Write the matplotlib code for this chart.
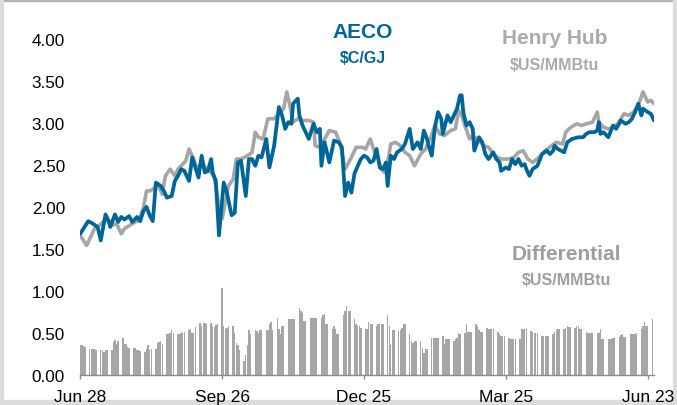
import matplotlib
matplotlib.use('Agg')
import matplotlib.pyplot as plt
from matplotlib.patches import Rectangle

plt.rcParams['font.family'] = ['Liberation Sans', 'DejaVu Sans']

# ---- data ----
tick_days = [0, 90, 180, 270, 360]
tick_labels = ['Jun 28', 'Sep 26', 'Dec 25', 'Mar 25', 'Jun 23']
y_ticks = [0.0, 0.5, 1.0, 1.5, 2.0, 2.5, 3.0, 3.5, 4.0]

aeco_days = [0, 5, 8, 11, 13, 16, 18, 19, 22, 24, 26, 28, 31, 33, 36, 38, 40, 42, 44, 46,
             48, 51, 53, 55, 58, 60, 62, 64, 66, 69, 71, 73, 75, 77, 79, 81, 83, 84, 86, 88,
             91, 93, 96, 98, 100, 102, 105, 107, 109, 111, 113, 115, 118, 120, 123, 126, 128,
             130, 132, 134, 135, 138, 139, 141, 143, 145, 148, 150, 152, 153, 155, 158, 161,
             164, 166, 168, 170, 172, 174, 178, 180, 182, 184, 186, 188, 190, 192, 194, 195,
             197, 199, 201, 204, 206, 209, 211, 214, 216, 218, 220, 221, 223, 225, 227, 229,
             230, 233, 235, 237, 239, 241, 242, 243, 245, 247, 249, 250, 253, 255, 257, 259,
             262, 264, 266, 267, 270, 272, 274, 276, 278, 280, 282, 283, 285, 287, 290, 293,
             296, 298, 300, 301, 303, 307, 309, 312, 316, 319, 321, 323, 326, 328, 329, 330,
             332, 335, 338, 340, 343, 346, 348, 350, 352, 354, 356, 357, 360, 362, 364]
aeco_vals = [1.68, 1.83, 1.80, 1.76, 1.60, 1.91, 1.83, 1.76, 1.91, 1.82, 1.88, 1.85, 1.89, 1.82,
             1.88, 1.83, 1.95, 2.00, 1.90, 1.83, 2.29, 2.25, 2.19, 2.11, 2.13, 2.31, 2.37, 2.45,
             2.43, 2.31, 2.59, 2.47, 2.35, 2.61, 2.41, 2.43, 2.57, 2.41, 2.31, 1.66, 2.29, 2.17,
             1.90, 1.93, 2.53, 2.55, 2.13, 2.57, 2.57, 2.49, 2.61, 2.59, 2.81, 2.47, 2.73, 3.19,
             3.09, 2.93, 3.01, 2.99, 3.23, 3.29, 3.09, 2.97, 2.89, 2.81, 2.99, 2.89, 2.93, 2.49,
             2.77, 2.53, 2.79, 2.77, 2.71, 2.13, 2.29, 2.17, 2.40, 2.57, 2.61, 2.59, 2.53, 2.55,
             2.69, 2.47, 2.45, 2.53, 2.25, 2.61, 2.57, 2.65, 2.69, 2.75, 2.93, 2.69, 2.77, 2.69,
             2.91, 2.81, 2.73, 2.61, 2.95, 3.13, 3.05, 2.87, 3.09, 3.01, 3.09, 3.17, 3.33, 3.33,
             3.13, 2.97, 3.01, 2.93, 2.67, 2.83, 2.77, 2.63, 2.57, 2.65, 2.57, 2.53, 2.43, 2.47,
             2.45, 2.57, 2.51, 2.57, 2.49, 2.51, 2.45, 2.37, 2.45, 2.49, 2.63, 2.67, 2.63, 2.67,
             2.73, 2.69, 2.65, 2.77, 2.81, 2.83, 2.83, 2.87, 2.89, 2.89, 2.91, 3.01, 2.87, 2.89,
             2.83, 2.97, 2.93, 3.03, 2.99, 3.01, 3.05, 3.13, 3.23, 3.09, 3.17, 3.13, 3.11, 3.03]

hh_days = [0, 2, 4, 6, 9, 12, 17, 20, 23, 26, 28, 33, 37, 40, 42, 44, 46, 49, 52, 54, 57, 60,
           62, 64, 67, 69, 72, 74, 77, 80, 83, 85, 88, 90, 92, 94, 97, 99, 102, 106, 109, 111,
           113, 116, 119, 123, 127, 129, 131, 133, 135, 138, 141, 145, 148, 149, 152, 155, 158,
           162, 165, 168, 172, 175, 179, 181, 184, 186, 189, 191, 193, 195, 197, 200, 203, 206,
           209, 212, 216, 219, 222, 225, 228, 231, 235, 238, 240, 242, 244, 247, 249, 253, 256,
           259, 263, 267, 272, 275, 278, 281, 284, 287, 291, 295, 299, 302, 306, 308, 310, 313,
           315, 318, 321, 325, 328, 329, 332, 335, 338, 341, 345, 348, 351, 354, 357, 360, 362, 364]
hh_vals = [1.66, 1.60, 1.54, 1.62, 1.74, 1.78, 1.86, 1.78, 1.80, 1.68, 1.74, 1.80, 1.84, 1.98,
           2.19, 2.19, 2.21, 2.27, 2.15, 2.37, 2.45, 2.37, 2.45, 2.49, 2.55, 2.69, 2.57, 2.45,
           2.53, 2.45, 2.41, 2.35, 2.01, 1.86, 2.05, 2.25, 2.33, 2.57, 2.57, 2.61, 2.65, 2.89,
           2.83, 2.81, 3.05, 3.05, 3.13, 3.17, 3.37, 3.21, 3.01, 3.05, 3.03, 3.03, 3.01, 2.73,
           2.71, 2.81, 2.91, 2.89, 2.75, 2.45, 2.59, 2.71, 2.71, 2.69, 2.81, 2.69, 2.57, 2.45,
           2.41, 2.53, 2.75, 2.77, 2.73, 2.65, 2.61, 2.49, 2.63, 2.69, 2.81, 2.97, 2.87, 2.85,
           2.91, 2.93, 3.15, 3.09, 2.97, 2.81, 2.85, 2.79, 2.73, 2.71, 2.61, 2.57, 2.57, 2.59,
           2.65, 2.67, 2.57, 2.53, 2.59, 2.67, 2.73, 2.77, 2.75, 2.89, 2.93, 2.97, 2.99, 2.97,
           2.99, 3.01, 3.13, 3.01, 2.95, 2.93, 2.95, 2.99, 3.11, 3.09, 3.13, 3.21, 3.37, 3.25,
           3.27, 3.23]

# trading days (weekdays) and the AECO-Henry Hub differential for each
diff_days = [d for d in range(364) if d % 7 in (6, 0, 1, 2, 3)]
diff_vals = [0.35, 0.35, 0.34, 0.33,
             0.31, 0.31, 0.31, 0.31, 0.30, 0.30, 0.30, 0.27, 0.30, 0.30,
             0.30, 0.39, 0.41, 0.36, 0.40, 0.44, 0.36, 0.36, 0.33, 0.32,
             0.32, 0.32, 0.30, 0.30, 0.28, 0.27, 0.31, 0.35, 0.30, 0.31,
             0.31, 0.38, 0.39, 0.40, 0.37, 0.48, 0.49, 0.50, 0.53, 0.50,
             0.48, 0.49, 0.50, 0.51, 0.51, 0.53, 0.54, 0.50, 0.50, 0.57,
             0.62, 0.58, 0.62, 0.62, 0.60, 0.62, 0.58, 0.57, 0.59, 0.60,
             1.03, 0.58, 0.55, 0.56, 0.58, 0.58, 0.50, 0.38, 0.35, 0.30,
             0.16, 0.24, 0.35, 0.53, 0.48, 0.53, 0.52, 0.50, 0.53, 0.53,
             0.53, 0.53, 0.61, 0.63, 0.53, 0.67, 0.55, 0.49, 0.58, 0.58,
             0.66, 0.66, 0.66, 0.66, 0.66, 0.79, 0.76, 0.73, 0.64, 0.64,
             0.68, 0.68, 0.68, 0.68, 0.68, 0.68, 0.71, 0.72, 0.60, 0.60,
             0.54, 0.58, 0.54, 0.49, 0.49, 0.71, 0.76, 0.82, 0.76, 0.76,
             0.66, 0.61, 0.58, 0.58, 0.56, 0.54, 0.55, 0.63, 0.60, 0.60,
             0.58, 0.60, 0.61, 0.61, 0.61, 0.71, 0.58, 0.35, 0.53, 0.53,
             0.52, 0.53, 0.56, 0.61, 0.61, 0.49, 0.40, 0.38, 0.40, 0.40,
             0.40, 0.32, 0.26, 0.31, 0.31, 0.44, 0.44, 0.44, 0.44, 0.44,
             0.46, 0.36, 0.42, 0.42, 0.42, 0.40, 0.42, 0.44, 0.50, 0.48,
             0.50, 0.61, 0.51, 0.51, 0.51, 0.61, 0.58, 0.53, 0.51, 0.51,
             0.56, 0.55, 0.55, 0.54, 0.54, 0.51, 0.48, 0.46, 0.46, 0.46,
             0.44, 0.43, 0.43, 0.43, 0.43, 0.43, 0.55, 0.55, 0.54, 0.54,
             0.52, 0.51, 0.50, 0.50, 0.50, 0.46, 0.46, 0.46, 0.46, 0.46,
             0.48, 0.51, 0.53, 0.54, 0.54, 0.54, 0.56, 0.58, 0.57, 0.57,
             0.56, 0.58, 0.58, 0.55, 0.55, 0.51, 0.50, 0.50, 0.50, 0.50,
             0.50, 0.50, 0.55, 0.43, 0.43, 0.43, 0.42, 0.43, 0.44, 0.44,
             0.45, 0.47, 0.48, 0.45, 0.45, 0.49, 0.49, 0.49, 0.49, 0.50,
             0.55, 0.58, 0.63, 0.58, 0.58,
             0.66]

BLUE = '#00669A'
GRAY = '#A6A6A6'

W, H = 677, 406
fig = plt.figure(figsize=(W / 100, H / 100), dpi=100)

# outer frame (drawn beneath everything else)
fig.patches.append(Rectangle((0, 1 - 2 / H), 1, 2 / H, transform=fig.transFigure,
                             color='#B2B2B2', zorder=-5))
fig.patches.append(Rectangle((0, 0), 3 / W, 1, transform=fig.transFigure,
                             color='#DCDCDC', zorder=-5))
fig.patches.append(Rectangle((0, 0), 1, 5 / H, transform=fig.transFigure,
                             color='#DCDCDC', zorder=-5))
fig.patches.append(Rectangle((1 - 4 / W, 0), 4 / W, 1, transform=fig.transFigure,
                             color='#DCDCDC', zorder=-5))

ax = fig.add_axes([79.5 / W, (H - 375.7) / H, (654 - 79.5) / W, (375.7 - 23.3) / H])

ax.bar(diff_days, diff_vals, width=0.9, color=GRAY, linewidth=0, zorder=1)
ax.plot(hh_days, hh_vals, color=GRAY, lw=2.6, solid_joinstyle='round',
        solid_capstyle='round', zorder=2)
ax.plot(aeco_days, aeco_vals, color=BLUE, lw=2.7, solid_joinstyle='round',
        solid_capstyle='round', zorder=3)

ax.set_xlim(-0.5, 364)
ax.set_ylim(0, 4.2)
ax.set_yticks(y_ticks)
ax.set_yticklabels([f'{v:.2f}' for v in y_ticks])
ax.set_xticks(tick_days)
ax.set_xticklabels(tick_labels)
for s in ['top', 'right', 'left']:
    ax.spines[s].set_visible(False)
ax.spines['bottom'].set_color('#8C8C8C')
ax.spines['bottom'].set_linewidth(1.0)
ax.tick_params(axis='y', length=0, pad=10.5, labelsize=12.3, colors='black')
ax.tick_params(axis='x', length=3, width=1, color='#8C8C8C', pad=7.5, labelsize=12.5)
ax.patch.set_alpha(0)

def ft(x, y, s, color, size):
    fig.text(x / W, 1 - y / H, s, color=color, fontsize=size, fontweight='bold',
             ha='center', va='center')

ft(362.7, 32, 'AECO', BLUE, 15)
ft(362.7, 58.5, '$C/GJ', BLUE, 11.5)
ft(555, 39, 'Henry Hub', '#ABABAB', 15)
ft(555, 65, '$US/MMBtu', '#ABABAB', 11.5)
ft(566.5, 254, 'Differential', '#9E9E9E', 15)
ft(566.5, 281, '$US/MMBtu', '#9E9E9E', 11.5)

fig.savefig('out.png', dpi=100)
